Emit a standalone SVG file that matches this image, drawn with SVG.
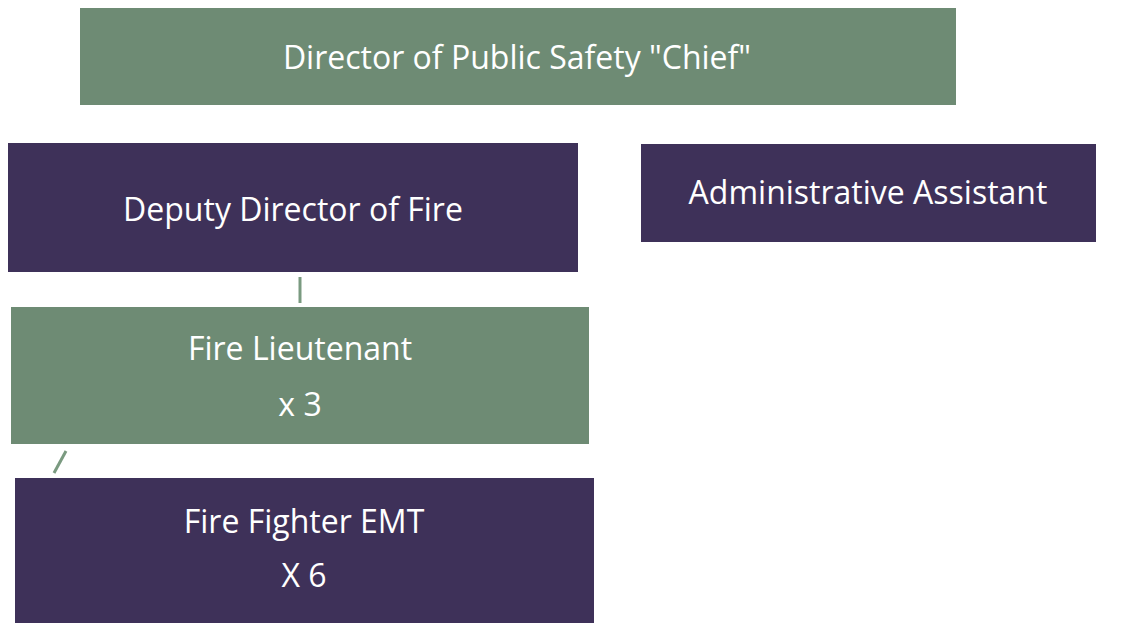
<svg xmlns="http://www.w3.org/2000/svg" width="1123" height="623" viewBox="0 0 1123 623">
<style>
.g{fill:#6e8b74}
.p{fill:#3e3159}
text{font-family:"Open Sans","Liberation Sans",sans-serif;font-size:32px;fill:#ffffff;text-anchor:middle}
.c{stroke:#7a9a80;stroke-width:3;fill:none}
</style>
<rect width="1123" height="623" fill="#ffffff"/>
<g id="connectors">
<line class="c" x1="300" y1="277" x2="300" y2="303"/>
<line class="c" x1="66" y1="451" x2="54" y2="473"/>
</g>
<g id="director"><rect class="g" x="80" y="8" width="876" height="97"/><text x="517" y="69">Director of Public Safety "Chief"</text></g>
<g id="deputy"><rect class="p" x="8" y="143" width="570" height="129"/><text x="293" y="221">Deputy Director of Fire</text></g>
<g id="admin"><rect class="p" x="641" y="144" width="455" height="98"/><text x="868" y="204">Administrative Assistant</text></g>
<g id="lieutenant"><rect class="g" x="11" y="307" width="578" height="137"/><text x="300" y="360">Fire Lieutenant</text><text x="300" y="416">x 3</text></g>
<g id="firefighter"><rect class="p" x="15" y="478" width="579" height="145"/><text x="304" y="533">Fire Fighter EMT</text><text x="304" y="587">X 6</text></g>
</svg>
